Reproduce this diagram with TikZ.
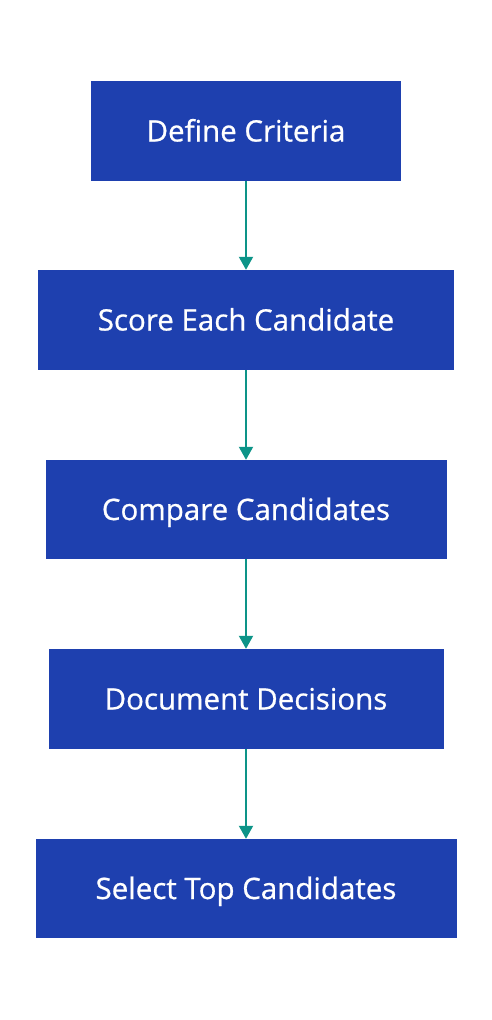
\documentclass[tikz,border=0pt]{standalone}
\usepackage{fontspec}
\setmainfont{Open Sans}
\newfontfamily\stepfont{Open Sans}[FakeBold=0.7]
\usepackage{xcolor}
\usepackage{tikz}
\usetikzlibrary{arrows.meta}
\definecolor{stepBlue}{HTML}{1E40AF}
\definecolor{flowTeal}{HTML}{0D9488}
\tikzset{
  stepbox/.style={rectangle, draw=none, fill=stepBlue, text=white, align=center, font=\stepfont\fontsize{29.5}{34}\selectfont, text height=21pt, text depth=0pt, minimum height=100pt, inner sep=0pt},
  flowarrow/.style={-{Triangle[length=13pt,width=14pt]}, line width=2pt, draw=flowTeal},
}
\begin{document}
\begin{tikzpicture}[x=1pt,y=-1pt]
  \useasboundingbox (0,0) rectangle (492,1020);
  \node[stepbox, minimum width=310pt] (crit) at (246,131) {Define Criteria};
  \node[stepbox, minimum width=416pt] (score) at (246,320) {Score Each Candidate};
  \node[stepbox, minimum width=401pt, minimum height=99pt] (comp) at (246,509.5) {Compare Candidates};
  \node[stepbox, minimum width=395pt] (doc) at (246,699) {Document Decisions};
  \node[stepbox, minimum width=421pt, minimum height=99pt] (sel) at (246,888.5) {Select Top Candidates};

  \draw[flowarrow] (crit) -- (score);
  \draw[flowarrow] (score) -- (comp);
  \draw[flowarrow] (comp) -- (doc);
  \draw[flowarrow] (doc) -- (sel);
\end{tikzpicture}
\end{document}
